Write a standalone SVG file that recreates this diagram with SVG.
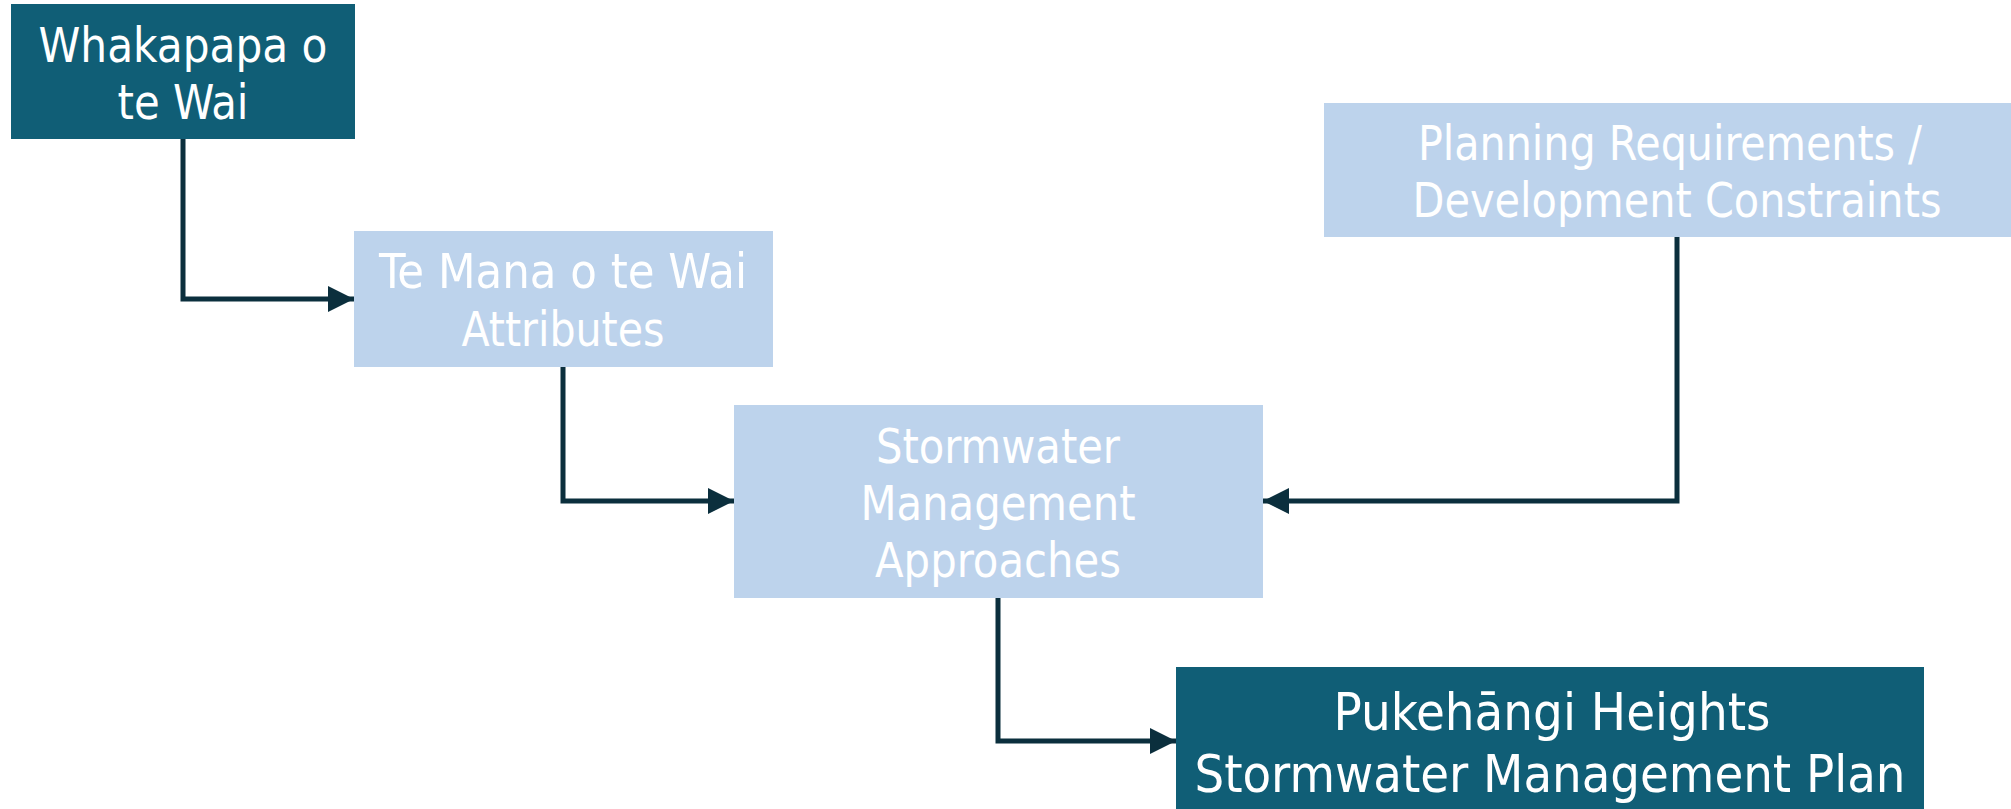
<svg xmlns="http://www.w3.org/2000/svg" width="2011" height="809" viewBox="0 0 2011 809">
<style>
.dark{fill:#105E76}
.light{fill:#BDD3EC}
text{fill:#FFFFFF;font-family:"DejaVu Sans Condensed","DejaVu Sans",sans-serif;font-stretch:condensed;font-size:48px;text-anchor:middle}
.big{font-size:52px}
.conn{fill:none;stroke:#0B2F3D;stroke-width:5;stroke-linejoin:miter}
</style>
<defs>
<marker id="arr" markerUnits="userSpaceOnUse" markerWidth="27" markerHeight="27" refX="26" refY="13" orient="auto" viewBox="0 0 27 27">
<path d="M0,0 L26,13 L0,26 Z" fill="#0B2F3D"/>
</marker>
</defs>
<rect width="2011" height="809" fill="#FFFFFF"/>
<g id="connectors">
<path class="conn" d="M183,139 V299 H354" marker-end="url(#arr)"/>
<path class="conn" d="M563,367 V501 H734" marker-end="url(#arr)"/>
<path class="conn" d="M1677,237 V501 H1263" marker-end="url(#arr)"/>
<path class="conn" d="M998,598 V741 H1176" marker-end="url(#arr)"/>
</g>
<g id="whakapapa">
<rect class="dark" x="11" y="4" width="344" height="135"/>
<text x="183" y="62" textLength="289" lengthAdjust="spacingAndGlyphs">Whakapapa o</text>
<text x="183" y="119" textLength="131" lengthAdjust="spacingAndGlyphs">te Wai</text>
</g>
<g id="temana">
<rect class="light" x="354" y="231" width="419" height="136"/>
<text x="563" y="288" textLength="368" lengthAdjust="spacingAndGlyphs">Te Mana o te Wai</text>
<text x="563" y="346" textLength="203" lengthAdjust="spacingAndGlyphs">Attributes</text>
</g>
<g id="stormwater">
<rect class="light" x="734" y="405" width="529" height="193"/>
<text x="998" y="463" textLength="244" lengthAdjust="spacingAndGlyphs">Stormwater</text>
<text x="998" y="520" textLength="275" lengthAdjust="spacingAndGlyphs">Management</text>
<text x="998" y="577" textLength="246" lengthAdjust="spacingAndGlyphs">Approaches</text>
</g>
<g id="planning">
<rect class="light" x="1324" y="103" width="706" height="134"/>
<text x="1670" y="160" textLength="504" lengthAdjust="spacingAndGlyphs">Planning Requirements /</text>
<text x="1677" y="217" textLength="529" lengthAdjust="spacingAndGlyphs">Development Constraints</text>
</g>
<g id="pukehangi">
<rect class="dark" x="1176" y="667" width="748" height="150"/>
<text class="big" x="1552" y="730" textLength="437" lengthAdjust="spacingAndGlyphs">Pukehāngi Heights</text>
<text class="big" x="1550" y="792" textLength="711" lengthAdjust="spacingAndGlyphs">Stormwater Management Plan</text>
</g>
</svg>
